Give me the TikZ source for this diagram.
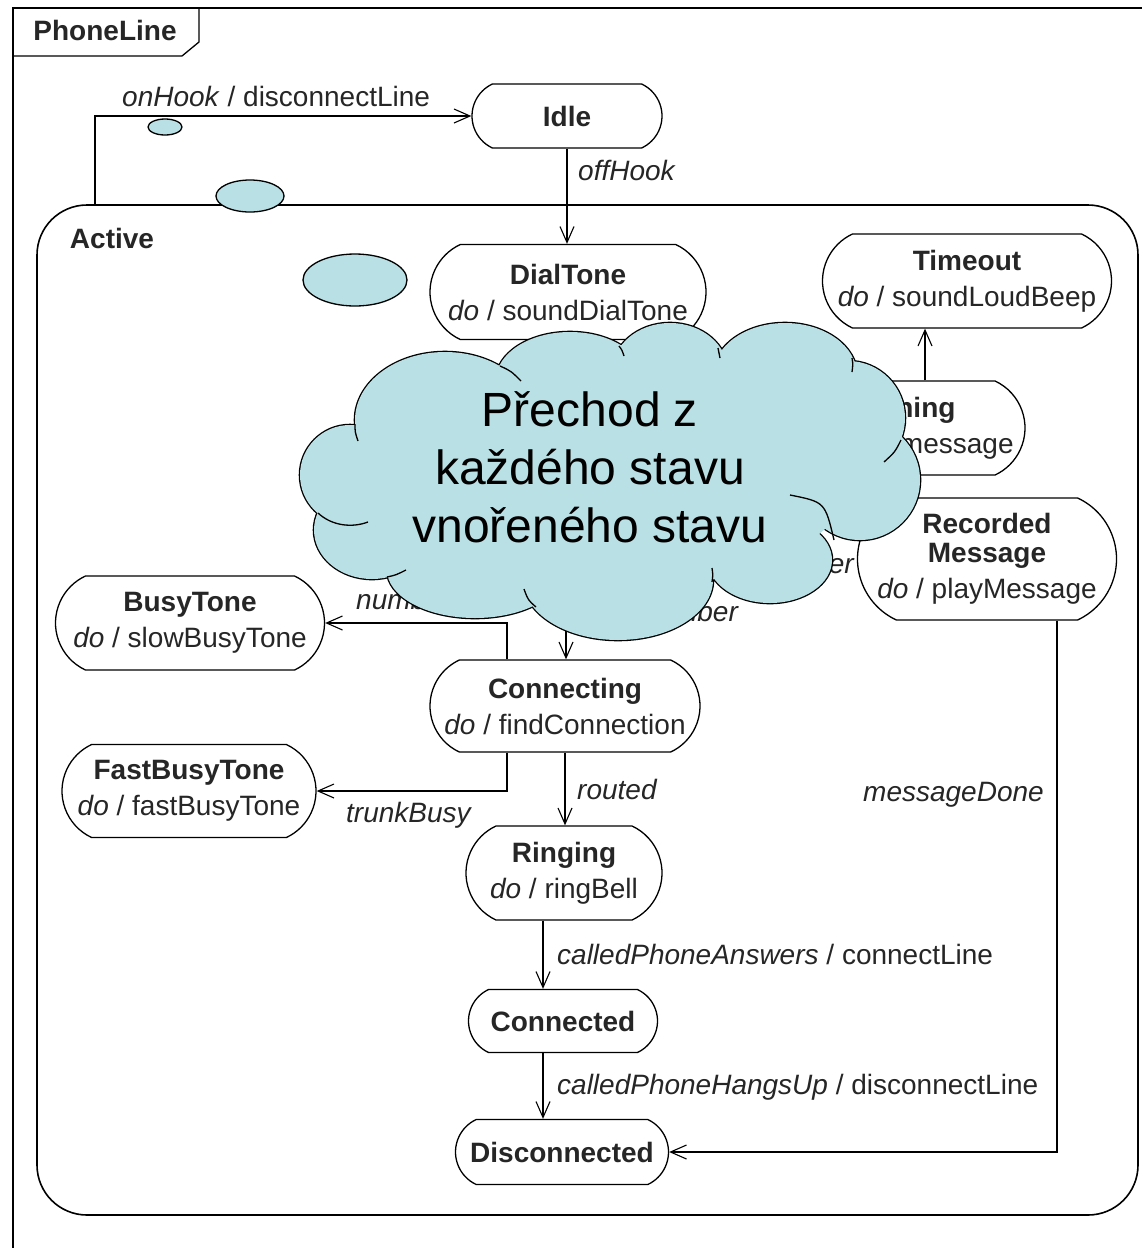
\documentclass[tikz,border=0pt]{standalone}
\usepackage{fontspec}
\setmainfont{Liberation Sans}
\usetikzlibrary{shapes.misc,arrows.meta}
\definecolor{cloudblue}{HTML}{B9E0E4}
\newcommand\cloudpuffs{%
 (445,420) ellipse [x radius=90pt, y radius=68pt]
 (570,380) ellipse [x radius=74pt, y radius=48pt]
 (670,372) ellipse [x radius=58pt, y radius=49pt]
 (785,375) ellipse [x radius=72pt, y radius=52pt]
 (848,418) circle [radius=57pt]
 (860,480) circle [radius=60pt]
 (770,560) ellipse [x radius=62pt, y radius=43pt]
 (618,580) ellipse [x radius=95pt, y radius=60pt]
 (475,570) ellipse [x radius=88pt, y radius=48pt]
 (372,530) ellipse [x radius=58pt, y radius=49pt]
 (350,475) circle [radius=50pt]
}
\begin{document}
\begin{tikzpicture}[x=1pt,y=-1pt,
  every node/.style={font=\fontsize{28}{36}\selectfont, text=black!85},
  state/.style={draw, line width=1.3pt, rounded rectangle, rounded rectangle arc length=130, inner sep=0pt, align=center},
  arr/.style={line width=1.1pt, -{Straight Barb[length=16pt,width=14pt,line width=1.1pt]}},
  lbl/.style={inner sep=0pt},
  blob/.style={draw, fill=cloudblue, line width=1.3pt},
  innerarc/.style={line width=1.3pt}
]
\useasboundingbox[fill=white] (0,0) rectangle (1142,1248);
% outer frame
\draw[line width=1.6pt] (1142,8) -- (13,8) -- (13,1248);
\draw[line width=1.3pt] (13,56) -- (182,56) -- (199,42) -- (199,8);
\node[font=\fontsize{28}{36}\selectfont\bfseries] (tPL) at (105,30) {PhoneLine};
% Active superstate
\node[draw, line width=1.6pt, rounded corners=50pt, minimum width=1101pt, minimum height=1010pt, inner sep=0pt] (act) at (587.5,710) {};
\node[font=\fontsize{28}{36}\selectfont\bfseries] (tAct) at (112,238) {Active};
% blobs
\draw[blob] (165,127) ellipse [x radius=17pt, y radius=8pt];
\draw[blob] (250,196) ellipse [x radius=34pt, y radius=16pt];
\draw[blob] (355,280) ellipse [x radius=52pt, y radius=26pt];
% states
\node[state, minimum width=190pt, minimum height=64pt] (idle) at (567,116) {\textbf{Idle}};
\node[state, minimum width=276pt, minimum height=95pt] (dial) at (568,292) {\textbf{DialTone}\\\textit{do} / soundDialTone};
\node[state, minimum width=289pt, minimum height=94pt] (tout) at (967,281) {\textbf{Timeout}\\\textit{do} / soundLoudBeep};
\node[state, minimum width=250pt, minimum height=94pt] (warn) at (900,428) {\textbf{Warning}\\\textit{do} / play message};
\node[state, minimum width=259pt, minimum height=122pt] (rec) at (987,559) {\textbf{Recorded}\\[-7pt]\textbf{Message}\\\textit{do} / playMessage};
\node[state, minimum width=269pt, minimum height=94pt] (busy) at (190,623) {\textbf{BusyTone}\\\textit{do} / slowBusyTone};
\node[state, minimum width=270pt, minimum height=92pt] (conn) at (565,706) {\textbf{Connecting}\\\textit{do} / findConnection};
\node[state, minimum width=254pt, minimum height=93pt] (fast) at (189,791) {\textbf{FastBusyTone}\\\textit{do} / fastBusyTone};
\node[state, minimum width=196pt, minimum height=94pt] (ring) at (564,873) {\textbf{Ringing}\\\textit{do} / ringBell};
\node[state, minimum width=189pt, minimum height=63pt] (cond) at (563,1021) {\textbf{Connected}};
\node[state, minimum width=213pt, minimum height=65pt] (disc) at (562,1152) {\textbf{Disconnected}};
% helper x positions
\coordinate (xOn) at (95,0);
\coordinate (xW) at (925,0);
\coordinate (xB) at (507,0);
\coordinate (xV) at (566,0);
\coordinate (xR) at (543,0);
\coordinate (xM) at (1057,0);
\coordinate (dialing) at (566,560);
% transitions
\draw[arr] (act.north -| xOn) |- (idle.west);
\draw[arr] (idle.south) -- (idle.south |- dial.north);
\draw[arr] (warn.north -| xW) -- (tout.south -| xW);
\draw[arr] (conn.north -| xB) |- (busy.east);
\draw[arr] (conn.south -| xB) |- (fast.east);
\draw[arr] (dialing) -- (conn.north -| xV);
\draw[arr] (conn.south) -- (conn.south |- ring.north);
\draw[arr] (ring.south -| xR) -- (cond.north -| xR);
\draw[arr] (cond.south -| xR) -- (disc.north -| xR);
\draw[arr] (rec.south -| xM) |- (disc.east);
% labels
\node[lbl, anchor=base west] (lOn) at (122,106) {\textit{onHook} / disconnectLine};
\node[lbl, anchor=base west] (lOff) at (578,180) {\textit{offHook}};
\node[lbl, anchor=base west] (lNB) at (356,609) {\textit{numberBusy}};
\node[lbl, anchor=base east] (lVN) at (739,621) {\textit{validNumber}};
\node[lbl, anchor=base east] (lIN) at (855,573) {\textit{invalidNumber}};
\node[lbl, anchor=base west] (lRt) at (577,799) {\textit{routed}};
\node[lbl, anchor=base west] (lTB) at (346,822) {\textit{trunkBusy}};
\node[lbl, anchor=base west] (lMD) at (863,801) {\textit{messageDone}};
\node[lbl, anchor=base west] (lCA) at (557,964) {\textit{calledPhoneAnswers} / connectLine};
\node[lbl, anchor=base west] (lCH) at (557,1094) {\textit{calledPhoneHangsUp} / disconnectLine};
% cloud overlay
\draw[line width=2.6pt] \cloudpuffs;
\fill[cloudblue] \cloudpuffs;
\fill[cloudblue] (610,480) ellipse [x radius=240pt, y radius=110pt];
\draw[innerarc] (355,424) .. controls (355,432) .. (358,441);
\draw[innerarc] (500,366) .. controls (511,371) .. (521,381);
\draw[innerarc] (619,346) .. controls (622,350) .. (624,356);
\draw[innerarc] (718,348) .. controls (719,353) .. (720,358);
\draw[innerarc] (852,358) .. controls (853,364) .. (852,372);
\draw[innerarc] (901,440) .. controls (895,452) .. (884,462);
\draw[innerarc] (790,495) .. controls (825,502) .. (834,540);
\draw[innerarc] (712,582) .. controls (713,575) .. (712,568);
\draw[innerarc] (536,607) .. controls (528,600) .. (524,589);
\draw[innerarc] (387,577) .. controls (396,575) .. (406,570);
\draw[innerarc] (318,513) .. controls (332,526) and (352,528) .. (368,522);
\node[font=\fontsize{48}{58}\selectfont, text=black, align=center] (ctext) at (590,467) {Přechod z\\každého stavu\\vnořeného stavu};
\end{tikzpicture}
\end{document}
